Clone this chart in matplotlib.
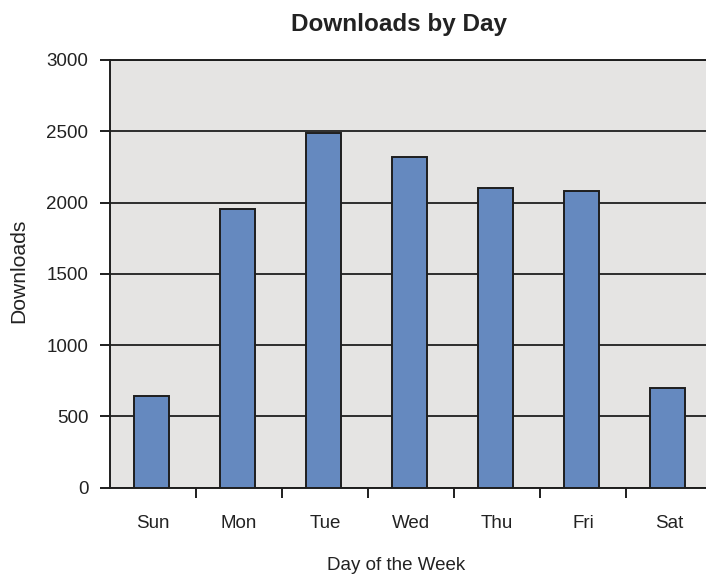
import matplotlib
matplotlib.use("Agg")
import matplotlib.pyplot as plt
import numpy as np

days = ["Sun", "Mon", "Tue", "Wed", "Thu", "Fri", "Sat"]
downloads = [640, 1955, 2490, 2320, 2100, 2080, 700]
y_ticks = [0, 500, 1000, 1500, 2000, 2500, 3000]

plt.rcParams["font.family"] = ["Liberation Sans", "DejaVu Sans"]

W, H = 706, 575
fig = plt.figure(figsize=(W / 100, H / 100), dpi=100)
left, right, top, bottom = 110, 712, 60, 487.5
ax = fig.add_axes([left / W, (H - bottom) / H, (right - left) / W, (bottom - top) / H])

ink = "#1e1e1e"
ax.set_facecolor("#E5E4E3")
x = np.arange(len(days))
ax.bar(x - 0.02, downloads, width=0.41, color="#6589BF", edgecolor=ink,
       linewidth=1.4, zorder=3)

ax.set_xlim(-0.5, len(days) - 0.5)
ax.set_ylim(0, 3000)
ax.set_yticks(y_ticks)
ax.yaxis.grid(True, color=ink, linewidth=1.3, zorder=2)
ax.set_axisbelow(False)

ax.set_xticks(np.arange(len(days) - 1) + 0.5)
ax.set_xticklabels([])
ax.set_xticks(x, minor=True)
ax.set_xticklabels(days, minor=True)
ax.tick_params(axis="x", which="major", length=7, width=1.4, color=ink)
ax.tick_params(axis="x", which="minor", length=0, pad=20, labelsize=13.5,
               labelcolor="#222222")
ax.tick_params(axis="y", length=7.5, width=1.4, color=ink, pad=8,
               labelsize=13.5, labelcolor="#222222")

ax.spines["right"].set_visible(False)
for s in ["left", "bottom", "top"]:
    ax.spines[s].set_color(ink)
    ax.spines[s].set_linewidth(1.4)

ax.set_xlabel("Day of the Week", fontsize=13.5, color="#222222", labelpad=18)
ax.xaxis.label.set_x((396 - left) / (right - left))
ax.set_ylabel("Downloads", fontsize=15.2, color="#222222")
ax.yaxis.set_label_coords((28.5 - left) / (right - left), (bottom - 271) / (bottom - top))
fig.text(399 / W, 1 - 24 / H, "Downloads by Day", ha="center", va="center",
         fontsize=17.5, fontweight="bold", color="#222222")

fig.savefig("out.png", dpi=100)
